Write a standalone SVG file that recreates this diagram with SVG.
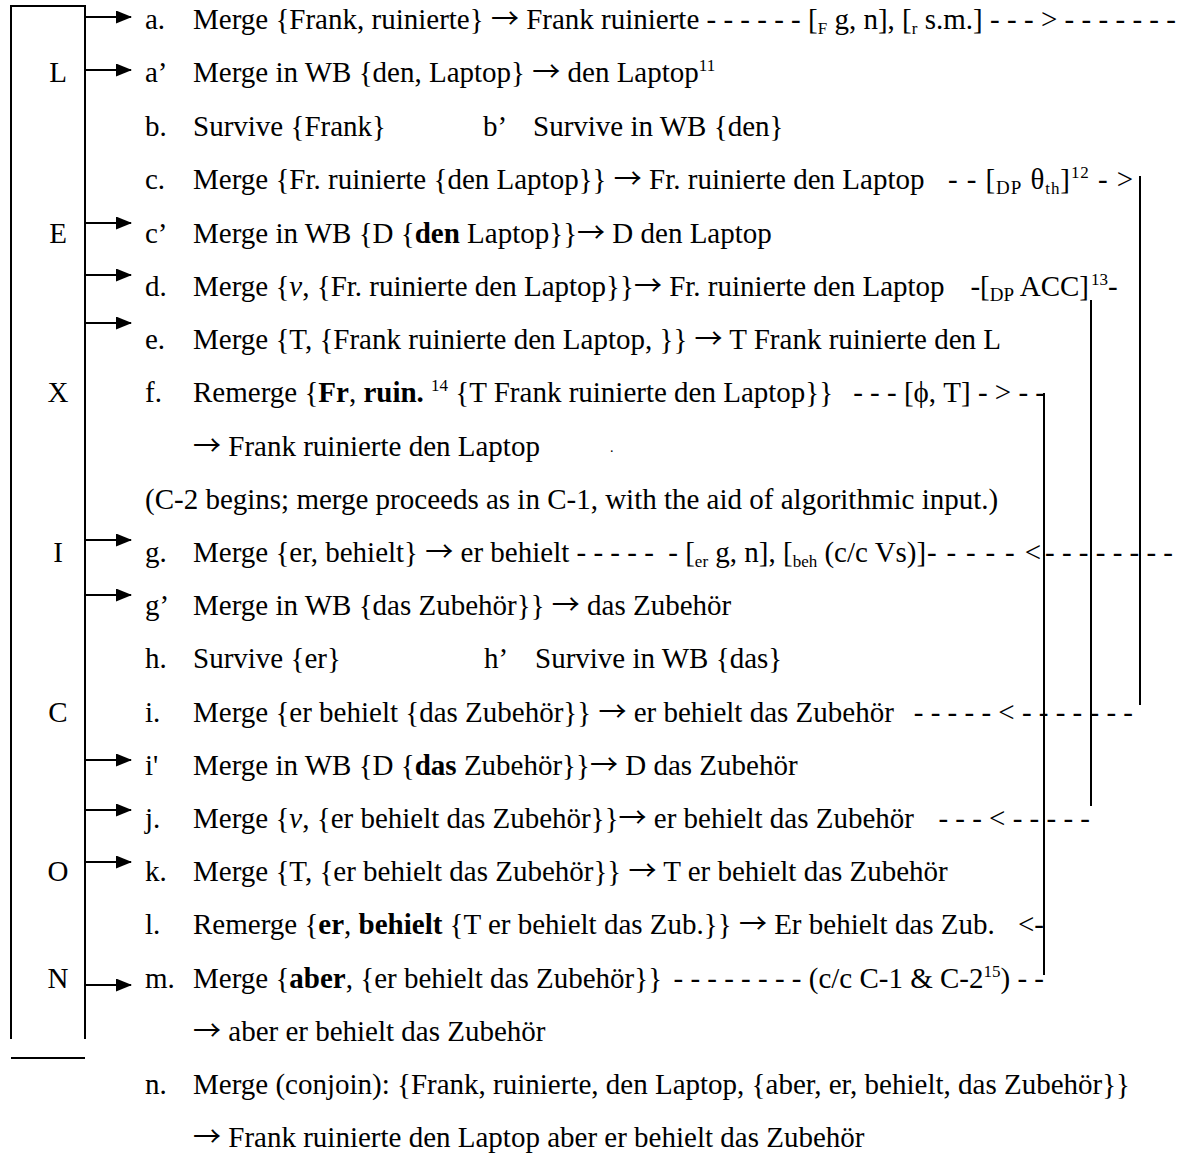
<svg xmlns="http://www.w3.org/2000/svg" width="1183" height="1155" viewBox="0 0 1183 1155" xml:space="preserve">
<style>
.t{font-family:"Liberation Serif","Times New Roman","DejaVu Serif",serif;font-size:29px;fill:#000;white-space:pre}
.b{font-weight:bold}
.i{font-style:italic}
.s{font-size:17px}
.s2{font-size:19px}
.u{font-size:17px}
.a{font-family:"Noto Sans CJK JP","DejaVu Sans",sans-serif;font-size:28px}
.ln{stroke:#000;stroke-width:2;fill:none}
.ar{stroke:#000;stroke-width:2.2;fill:none;marker-end:url(#ah)}
</style>
<defs><marker id="ah" markerWidth="17" markerHeight="13" refX="15" refY="6.5" orient="auto" markerUnits="userSpaceOnUse"><path d="M0,0 L16,6.5 L0,13 z" fill="#000"/></marker></defs>
<rect width="1183" height="1155" fill="#fff"/>
<g id="lexicon-box">
<path class="ln" d="M11,1039 V6 H85 V1039"/>
<path class="ln" d="M11,1058 H85"/>
<text class="t" x="58" y="82" text-anchor="middle">L</text>
<text class="t" x="58" y="243" text-anchor="middle">E</text>
<text class="t" x="58" y="402" text-anchor="middle">X</text>
<text class="t" x="58" y="562" text-anchor="middle">I</text>
<text class="t" x="58" y="722" text-anchor="middle">C</text>
<text class="t" x="58" y="881" text-anchor="middle">O</text>
<text class="t" x="58" y="988" text-anchor="middle">N</text>
</g>
<g id="row-a"><text class="t" x="145" y="29">a.</text><text class="t" x="193" y="29">Merge {Frank, ruinierte} <tspan class="a">→</tspan> Frank ruinierte - - - - - - [<tspan class="s" dy="5">F</tspan><tspan dy="-5"> g, n], [</tspan><tspan class="s" dy="5">r</tspan><tspan dy="-5"> s.m.]</tspan></text><text class="t" x="990" y="29" textLength="186" lengthAdjust="spacing">- - - &gt; - - - - - - -</text></g>
<g id="row-a2"><text class="t" x="145" y="82">a’</text><text class="t" x="193" y="82">Merge in WB {den, Laptop} <tspan class="a">→</tspan> den Laptop<tspan class="u" dy="-11">11</tspan></text></g>
<g id="row-b"><text class="t" x="145" y="136">b.</text><text class="t" x="193" y="136">Survive {Frank}</text><text class="t" x="483" y="136">b’</text><text class="t" x="533" y="136">Survive in WB {den}</text></g>
<g id="row-c"><text class="t" x="145" y="189">c.</text><text class="t" x="193" y="189">Merge {Fr. ruinierte {den Laptop}} <tspan class="a">→</tspan> Fr. ruinierte den Laptop</text><text class="t" x="948" y="189" textLength="185" lengthAdjust="spacing">- - [<tspan class="s2" dy="5">DP</tspan><tspan dy="-5"> θ</tspan><tspan class="s" dy="5">th</tspan><tspan dy="-5">]</tspan><tspan class="u" dy="-11">12</tspan><tspan dy="11"> - &gt;</tspan></text></g>
<g id="row-c2"><text class="t" x="145" y="243">c’</text><text class="t" x="193" y="243">Merge in WB {D {<tspan class="b">den</tspan> Laptop}}<tspan class="a">→</tspan> D den Laptop</text></g>
<g id="row-d"><text class="t" x="145" y="296">d.</text><text class="t" x="193" y="296">Merge {<tspan class="i">v</tspan>, {Fr. ruinierte den Laptop}}<tspan class="a">→</tspan> Fr. ruinierte den Laptop</text><text class="t" x="1089" y="296" text-anchor="end">-[<tspan class="s2" dy="5">DP</tspan><tspan dy="-5"> ACC]</tspan></text><text class="t" x="1091" y="296"><tspan class="u" dy="-11">13</tspan><tspan dy="11">-</tspan></text></g>
<g id="row-e"><text class="t" x="145" y="349">e.</text><text class="t" x="193" y="349">Merge {T, {Frank ruinierte den Laptop, }} <tspan class="a">→</tspan> T Frank ruinierte den L</text></g>
<g id="row-f"><text class="t" x="145" y="402">f.</text><text class="t" x="193" y="402">Remerge {<tspan class="b">Fr</tspan>, <tspan class="b">ruin.</tspan> <tspan class="u" dy="-11">14</tspan><tspan dy="11"> {T Frank ruinierte den Laptop}}</tspan></text><text class="t" x="1045" y="402" text-anchor="end">- - - [ϕ, T] - &gt; - -</text></g>
<g id="row-f2"><text class="t" x="193" y="456"><tspan class="a">→</tspan> Frank ruinierte den Laptop</text><text class="t" x="610" y="452" style="font-size:14px">.</text></g>
<g id="row-c2begin"><text class="t" x="145" y="509">(C-2 begins; merge proceeds as in C-1, with the aid of algorithmic input.)</text></g>
<g id="row-g"><text class="t" x="145" y="562">g.</text><text class="t" x="193" y="562">Merge {er, behielt} <tspan class="a">→</tspan> er behielt - - - - -  - [<tspan class="s" dy="5">er</tspan><tspan dy="-5"> g, n], [</tspan><tspan class="s" dy="5">beh</tspan><tspan dy="-5"> (c/c Vs)]</tspan></text><text class="t" x="927" y="562" textLength="114" lengthAdjust="spacing">- - - - - &lt;</text><text class="t" x="1045" y="562">- - - - - - - -</text></g>
<g id="row-g2"><text class="t" x="145" y="615">g’</text><text class="t" x="193" y="615">Merge in WB {das Zubehör}} <tspan class="a">→</tspan> das Zubehör</text></g>
<g id="row-h"><text class="t" x="145" y="668">h.</text><text class="t" x="193" y="668">Survive {er}</text><text class="t" x="484" y="668">h’</text><text class="t" x="535" y="668">Survive in WB {das}</text></g>
<g id="row-i"><text class="t" x="145" y="722">i.</text><text class="t" x="193" y="722">Merge {er behielt {das Zubehör}} <tspan class="a">→</tspan> er behielt das Zubehör</text><text class="t" x="1133" y="722" text-anchor="end">- - - - - &lt; - - - - - - -</text></g>
<g id="row-i2"><text class="t" x="145" y="775">i'</text><text class="t" x="193" y="775">Merge in WB {D {<tspan class="b">das</tspan> Zubehör}}<tspan class="a">→</tspan> D das Zubehör</text></g>
<g id="row-j"><text class="t" x="145" y="828">j.</text><text class="t" x="193" y="828">Merge {<tspan class="i">v</tspan>, {er behielt das Zubehör}}<tspan class="a">→</tspan> er behielt das Zubehör</text><text class="t" x="1090" y="828" text-anchor="end">- - - &lt; - - - - -</text></g>
<g id="row-k"><text class="t" x="145" y="881">k.</text><text class="t" x="193" y="881">Merge {T, {er behielt das Zubehör}} <tspan class="a">→</tspan> T er behielt das Zubehör</text></g>
<g id="row-l"><text class="t" x="145" y="934">l.</text><text class="t" x="193" y="934">Remerge {<tspan class="b">er</tspan>, <tspan class="b">behielt</tspan> {T er behielt das Zub.}} <tspan class="a">→</tspan> Er behielt das Zub.</text><text class="t" x="1044" y="934" text-anchor="end">&lt;-</text></g>
<g id="row-m"><text class="t" x="145" y="988">m.</text><text class="t" x="193" y="988">Merge {<tspan class="b">aber</tspan>, {er behielt das Zubehör}}</text><text class="t" x="1044" y="988" text-anchor="end">- - - - - - - - (c/c C-1 &amp; C-2<tspan class="u" dy="-11">15</tspan><tspan dy="11">) - -</tspan></text></g>
<g id="row-m2"><text class="t" x="193" y="1041"><tspan class="a">→</tspan> aber er behielt das Zubehör</text></g>
<g id="row-n"><text class="t" x="145" y="1094">n.</text><text class="t" x="193" y="1094">Merge (conjoin): {Frank, ruinierte, den Laptop, {aber, er, behielt, das Zubehör}}</text></g>
<g id="row-n2"><text class="t" x="193" y="1147"><tspan class="a">→</tspan> Frank ruinierte den Laptop aber er behielt das Zubehör</text></g>
<g id="connectors">
<line class="ar" x1="85" y1="17" x2="131" y2="17"/>
<line class="ar" x1="85" y1="70" x2="131" y2="70"/>
<line class="ar" x1="85" y1="223" x2="131" y2="223"/>
<line class="ar" x1="85" y1="275" x2="131" y2="275"/>
<line class="ar" x1="85" y1="323" x2="131" y2="323"/>
<line class="ar" x1="85" y1="540" x2="131" y2="540"/>
<line class="ar" x1="85" y1="595" x2="131" y2="595"/>
<line class="ar" x1="85" y1="760" x2="131" y2="760"/>
<line class="ar" x1="85" y1="810" x2="131" y2="810"/>
<line class="ar" x1="85" y1="862" x2="131" y2="862"/>
<line class="ar" x1="85" y1="985" x2="131" y2="985"/>
<line class="ln" x1="1140" y1="176" x2="1140" y2="705"/>
<line class="ln" x1="1091" y1="300" x2="1091" y2="806"/>
<line class="ln" x1="1044" y1="393" x2="1044" y2="975"/>
</g>
</svg>
